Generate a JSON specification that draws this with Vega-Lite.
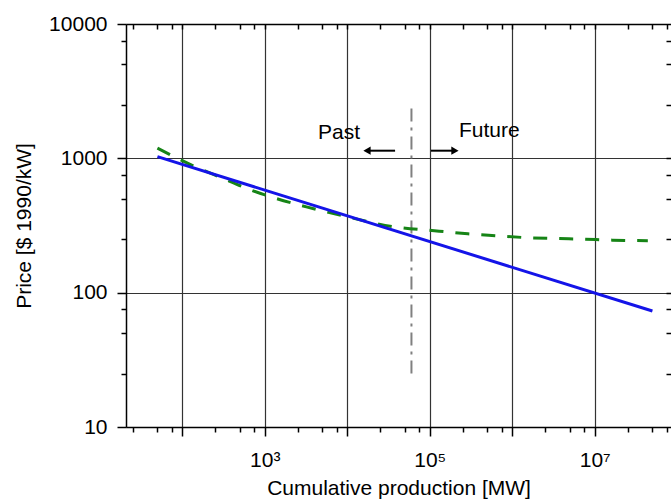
{
  "$schema": "https://vega.github.io/schema/vega-lite/v6.json",
  "width": 545,
  "height": 403,
  "autosize": {"type": "none"},
  "padding": {"left": 126, "top": 24, "right": 0, "bottom": 74},
  "background": "white",
  "config": {
    "view": {"stroke": null},
    "font": "Liberation Sans",
    "axis": {
      "tickColor": "black",
      "domainColor": "black",
      "labelColor": "black",
      "titleColor": "black",
      "labelFont": "Liberation Sans",
      "titleFont": "Liberation Sans",
      "titleFontWeight": "normal",
      "tickWidth": 1.5,
      "domainWidth": 1.5,
      "gridColor": "#333333",
      "gridOpacity": 1,
      "gridWidth": 1.2,
      "labelOverlap": false,
      "labelFlush": false
    }
  },
  "datasets": {
    "blue": [{"x": 50, "y": 1030}, {"x": 50000000, "y": 73}],
    "green": [
      {"x": 50, "y": 1190},
      {"x": 130, "y": 890},
      {"x": 300, "y": 715},
      {"x": 660, "y": 585},
      {"x": 3200, "y": 435},
      {"x": 8600, "y": 375},
      {"x": 36000, "y": 310},
      {"x": 130000, "y": 287},
      {"x": 290000, "y": 274},
      {"x": 660000, "y": 265},
      {"x": 1450000, "y": 257},
      {"x": 3300000, "y": 253},
      {"x": 7300000, "y": 250},
      {"x": 16400000, "y": 246},
      {"x": 44000000, "y": 244}
    ],
    "vline": [{"x": 60000, "y": 25, "y2": 2500}],
    "labels": [{"x": 4420, "y": 1400, "t": "Past"}, {"x": 226000, "y": 1440, "t": "Future"}],
    "shafts": [{"x": 17500, "x2": 38000, "y": 1140}, {"x": 103500, "x2": 198000, "y": 1140}],
    "heads": [{"x": 17340, "y": 1140, "dir": "left"}, {"x": 202000, "y": 1140, "dir": "right"}]
  },
  "resolve": {
    "scale": {"x": "shared", "y": "shared"},
    "axis": {"x": "independent", "y": "independent"}
  },
  "layer": [
    {
      "data": {"name": "vline"},
      "mark": {"type": "rule", "color": "#808080", "strokeWidth": 2, "strokeDash": [13, 6, 3, 6]},
      "encoding": {
        "x": {"field": "x", "type": "quantitative", "scale": {"type": "log", "domain": [20.8, 84000000], "nice": false},
          "axis": {"orient": "top", "values": [25, 50, 75, 100, 250, 500, 750, 1000, 2500, 5000, 7500, 10000, 25000, 50000, 75000, 100000, 250000, 500000, 750000, 1000000, 2500000, 5000000, 7500000, 10000000, 25000000, 50000000, 75000000],
            "labels": false, "grid": false, "domain": true, "tickSize": -5, "title": null}},
        "y": {"field": "y", "type": "quantitative", "scale": {"type": "log", "domain": [10, 10000], "nice": false},
          "axis": {"orient": "right", "values": [25, 50, 75, 100, 250, 500, 750, 1000, 2500, 5000, 7500],
            "labels": false, "grid": false, "domain": false, "tickSize": -5, "title": null}},
        "y2": {"field": "y2"}
      }
    },
    {
      "data": {"name": "green"},
      "mark": {"type": "line", "color": "#168416", "strokeWidth": 3, "strokeDash": [14, 12], "interpolate": "monotone"},
      "encoding": {
        "x": {"field": "x", "type": "quantitative", "scale": {"type": "log", "domain": [20.8, 84000000], "nice": false},
          "axis": {"orient": "bottom", "values": [25, 50, 75, 250, 500, 750, 2500, 5000, 7500, 25000, 50000, 75000, 250000, 500000, 750000, 2500000, 5000000, 7500000, 25000000, 50000000, 75000000],
            "labels": false, "grid": false, "domain": false, "tickSize": 5, "title": null}},
        "y": {"field": "y", "type": "quantitative", "scale": {"type": "log", "domain": [10, 10000], "nice": false},
          "axis": {"orient": "left", "values": [25, 50, 75, 250, 500, 750, 2500, 5000, 7500],
            "labels": false, "grid": false, "domain": false, "tickSize": 5, "title": null}}
      }
    },
    {
      "data": {"name": "blue"},
      "mark": {"type": "line", "color": "#1414e8", "strokeWidth": 3},
      "encoding": {
        "x": {"field": "x", "type": "quantitative", "scale": {"type": "log", "domain": [20.8, 84000000], "nice": false},
          "axis": {"orient": "bottom", "values": [100, 1000, 10000, 100000, 1000000, 10000000],
            "grid": true, "tickSize": 9, "labelFontSize": 21, "labelPadding": 13,
            "labelExpr": "datum.value == 1000 ? '10³' : datum.value == 100000 ? '10⁵' : datum.value == 10000000 ? '10⁷' : ''",
            "title": "Cumulative production [MW]", "titleFontSize": 21, "titlePadding": 7}},
        "y": {"field": "y", "type": "quantitative", "scale": {"type": "log", "domain": [10, 10000], "nice": false},
          "axis": {"orient": "left", "values": [10, 100, 1000, 10000], "format": "d",
            "grid": true, "tickSize": 9, "labelFontSize": 21, "labelPadding": 10,
            "title": "Price [$ 1990/kW]", "titleFontSize": 21, "titlePadding": 14}}
      }
    },
    {
      "data": {"name": "labels"},
      "mark": {"type": "text", "align": "left", "baseline": "alphabetic", "fontSize": 21, "font": "Liberation Sans", "color": "black"},
      "encoding": {
        "x": {"field": "x", "type": "quantitative", "scale": {"type": "log", "domain": [20.8, 84000000], "nice": false}, "axis": null},
        "y": {"field": "y", "type": "quantitative", "scale": {"type": "log", "domain": [10, 10000], "nice": false}, "axis": null},
        "text": {"field": "t"}
      }
    },
    {
      "data": {"name": "shafts"},
      "mark": {"type": "rule", "color": "black", "strokeWidth": 2},
      "encoding": {
        "x": {"field": "x", "type": "quantitative", "scale": {"type": "log", "domain": [20.8, 84000000], "nice": false}, "axis": null},
        "x2": {"field": "x2"},
        "y": {"field": "y", "type": "quantitative", "scale": {"type": "log", "domain": [10, 10000], "nice": false}, "axis": null}
      }
    },
    {
      "data": {"name": "heads"},
      "mark": {"type": "point", "filled": true, "color": "black", "opacity": 1, "size": 70},
      "encoding": {
        "x": {"field": "x", "type": "quantitative", "scale": {"type": "log", "domain": [20.8, 84000000], "nice": false}, "axis": null},
        "y": {"field": "y", "type": "quantitative", "scale": {"type": "log", "domain": [10, 10000], "nice": false}, "axis": null},
        "shape": {"field": "dir", "type": "nominal", "scale": {"domain": ["left", "right"], "range": ["triangle-left", "triangle-right"]}, "legend": null}
      }
    }
  ]
}
